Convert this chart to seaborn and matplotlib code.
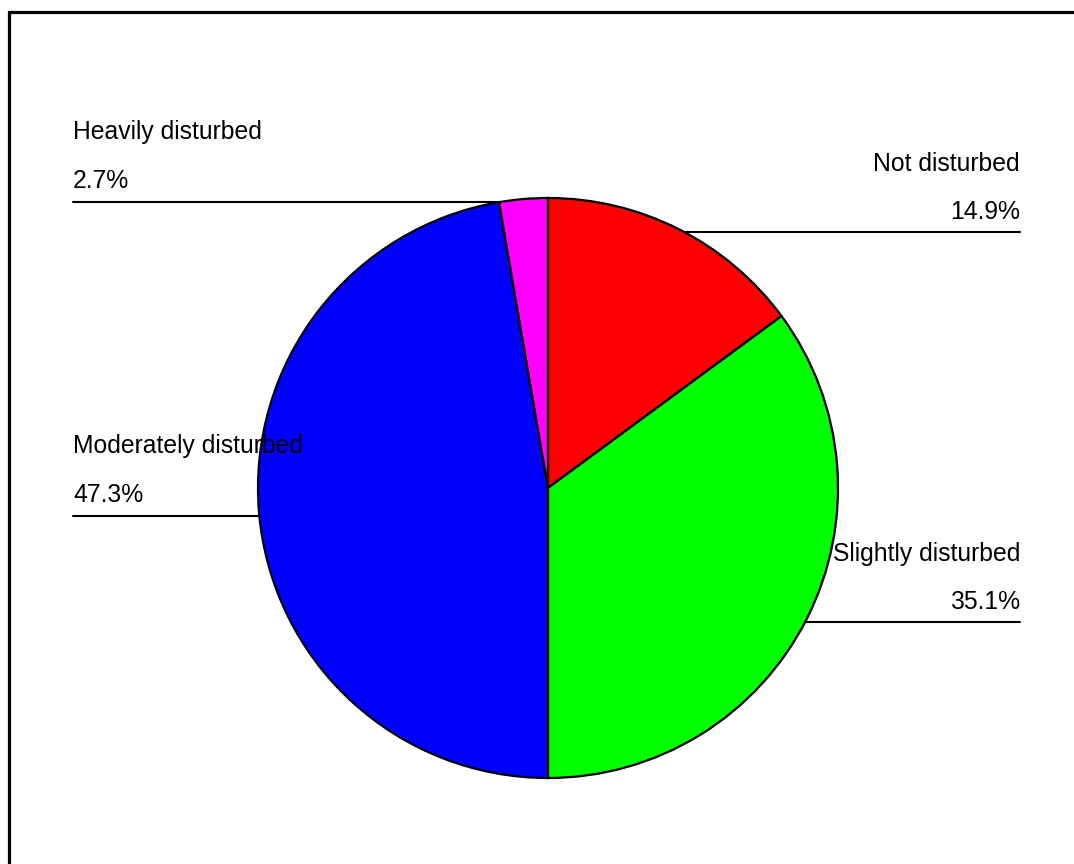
import numpy as np
import matplotlib
matplotlib.use("Agg")
import matplotlib.pyplot as plt
import seaborn as sns
from matplotlib.patches import Rectangle

categories = ["Not disturbed", "Slightly disturbed", "Moderately disturbed", "Heavily disturbed"]
values = [14.9, 35.1, 47.3, 2.7]
pct_labels = ["14.9%", "35.1%", "47.3%", "2.7%"]
colors = ["#FF0000", "#00FF00", "#0000FF", "#FF00FF"]

sns.set_theme(style="white")
plt.rcParams['font.family'] = ['Liberation Sans', 'DejaVu Sans']
plt.rcParams['text.color'] = 'black'

W, H = 1074, 864
fig = plt.figure(figsize=(W / 100, H / 100), dpi=100)
ax = fig.add_axes([0, 0, 1, 1])

cx, cy, r = 548, H - 488, 290
wedges, _ = ax.pie(values, colors=colors, startangle=90, counterclock=False,
                   center=(cx, cy), radius=r, frame=True,
                   wedgeprops=dict(edgecolor='black', linewidth=1.6))
ax.set_xlim(0, W)
ax.set_ylim(0, H)
ax.set_aspect('equal')
ax.axis('off')

left_x, right_x = 73, 1020
fs = 17.8
for w, name, pct in zip(wedges, categories, pct_labels):
    mid = np.deg2rad((w.theta1 + w.theta2) / 2)
    ly = cy + r * np.sin(mid) - 3
    dx = np.sqrt(max(r ** 2 - (ly - cy) ** 2, 0))
    if np.cos(mid) < 0:
        xe = cx - dx
        ax.plot([left_x, xe], [ly, ly], color='black', lw=1.5, zorder=3)
        ax.text(left_x, ly + 14, pct, ha='left', va='baseline', fontsize=fs, color='black', zorder=4)
        ax.text(left_x, ly + 63, name, ha='left', va='baseline', fontsize=fs, color='black', zorder=4)
    else:
        xe = cx + dx
        ax.plot([xe, right_x], [ly, ly], color='black', lw=1.5, zorder=3)
        ax.text(right_x, ly + 13, pct, ha='right', va='baseline', fontsize=fs, color='black', zorder=4)
        ax.text(right_x, ly + 61, name, ha='right', va='baseline', fontsize=fs, color='black', zorder=4)

# outer frame (extends past the right and bottom edges)
fig.patches.append(Rectangle((9 / W, -0.1), 1.2, 1 - 12.5 / H + 0.1, transform=fig.transFigure,
                             fill=False, edgecolor='black', linewidth=2.3, zorder=10))

fig.savefig("out.png", dpi=100, facecolor='white')
